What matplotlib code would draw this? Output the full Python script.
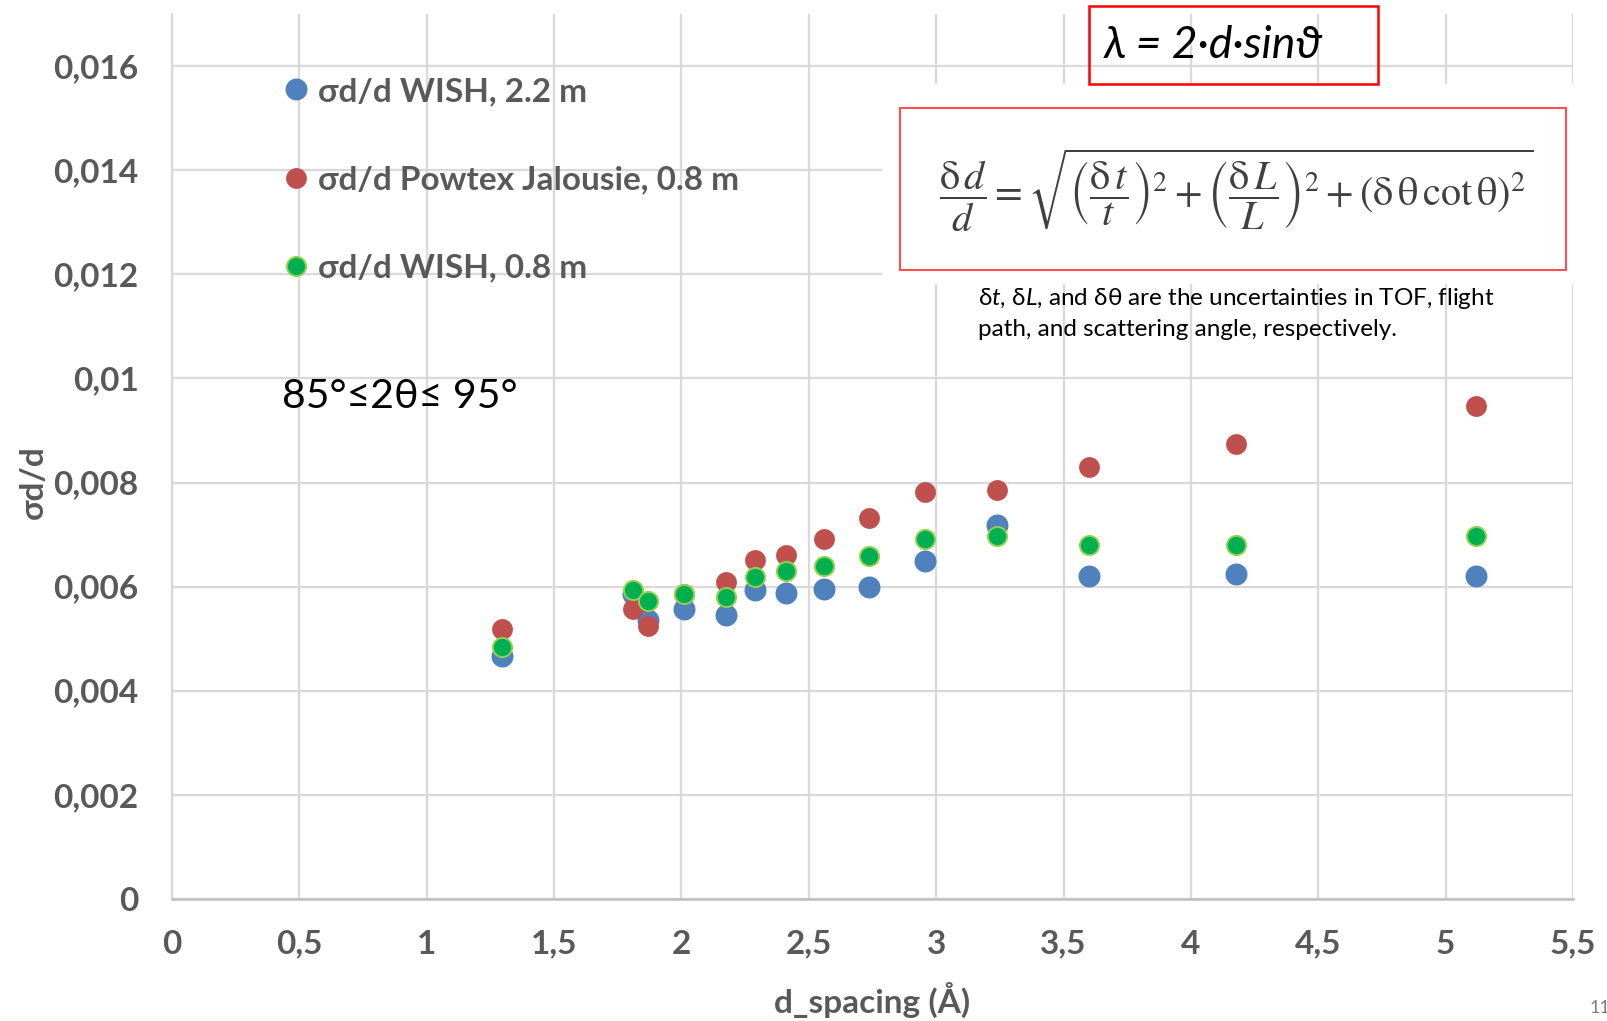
import numpy as np
import matplotlib
matplotlib.use("Agg")
import matplotlib.pyplot as plt
from matplotlib.patches import Rectangle

# data
d_spacing = [1.297, 1.809, 1.869, 2.010, 2.176, 2.288, 2.409, 2.558, 2.736, 2.957, 3.239, 3.598, 4.178, 5.121]
wish_22 = [0.00466, 0.00586, 0.00536, 0.00558, 0.00546, 0.00594, 0.00588, 0.00596, 0.00600, 0.00649, 0.00718, 0.00621, 0.00625, 0.00621]
powtex_08 = [0.00519, 0.00558, 0.00525, 0.00586, 0.00608, 0.00651, 0.00661, 0.00692, 0.00732, 0.00781, 0.00785, 0.00830, 0.00874, 0.00947]
wish_08 = [0.00485, 0.00594, 0.00572, 0.00586, 0.00580, 0.00619, 0.00631, 0.00639, 0.00659, 0.00692, 0.00698, 0.00680, 0.00680, 0.00698]

series_names = ["σd/d WISH, 2.2 m", "σd/d Powtex Jalousie, 0.8 m", "σd/d WISH, 0.8 m"]
x_ticks = [0, 0.5, 1, 1.5, 2, 2.5, 3, 3.5, 4, 4.5, 5, 5.5]
x_ticklabels = ["0", "0,5", "1", "1,5", "2", "2,5", "3", "3,5", "4", "4,5", "5", "5,5"]
y_ticks = [0, 0.002, 0.004, 0.006, 0.008, 0.010, 0.012, 0.014, 0.016]
y_ticklabels = ["0", "0,002", "0,004", "0,006", "0,008", "0,01", "0,012", "0,014", "0,016"]

FONTS = ["Lato", "Noto Sans", "DejaVu Sans"]
plt.rcParams["font.family"] = FONTS
plt.rcParams["mathtext.fontset"] = "custom"
plt.rcParams["mathtext.rm"] = "Lato"
plt.rcParams["mathtext.it"] = "Lato:italic"
plt.rcParams["mathtext.bf"] = "Lato:bold"

GRAY = "#595959"
W, H = 1608, 1021

def fx(px):
    return px / W

def fy(py):
    return 1 - py / H

fig = plt.figure(figsize=(16.08, 10.21), dpi=100)
ax = fig.add_axes([fx(172), fy(899), (1573 - 172) / W, (899 - 14) / H])

ax.scatter(d_spacing, wish_22, s=250, color="#4F81BD", linewidths=0, label=series_names[0], zorder=3)
ax.scatter(d_spacing, powtex_08, s=225, color="#C0504D", linewidths=0, label=series_names[1], zorder=3)
ax.scatter(d_spacing, wish_08, s=190, color="#00B050", edgecolors="#92D050", linewidths=1.4,
           label=series_names[2], zorder=3)

ax.set_xlim(0, 5.5)
ax.set_ylim(0, 0.017)
ax.set_xticks(x_ticks)
ax.set_xticklabels(x_ticklabels)
ax.set_yticks(y_ticks)
ax.set_yticklabels(y_ticklabels)
ax.tick_params(length=0, labelsize=24, labelcolor=GRAY)
ax.tick_params(axis="y", pad=24)
ax.tick_params(axis="x", pad=22)
for lab in ax.get_xticklabels() + ax.get_yticklabels():
    lab.set_fontweight("bold")

ax.grid(True, color="#D9D9D9", lw=1.6)
ax.set_axisbelow(True)
for s in ["top", "right"]:
    ax.spines[s].set_visible(False)
ax.spines["left"].set_color("#D9D9D9")
ax.spines["left"].set_linewidth(1.6)
ax.spines["bottom"].set_color("#BFBFBF")
ax.spines["bottom"].set_linewidth(1.8)

fig.text(fx(872), fy(1000), "d_spacing (Å)", ha="center", va="center", fontsize=24,
         fontweight="bold", color=GRAY)
fig.text(fx(33), fy(482), "σd/d", ha="center", va="center", rotation=90, fontsize=24,
         fontweight="bold", color=GRAY)

leg = ax.legend(loc="upper left", bbox_to_anchor=(fx(286), fy(77)), bbox_transform=fig.transFigure,
                frameon=False, fontsize=24, labelcolor=GRAY, labelspacing=1.78,
                handlelength=0.6, handletextpad=0.35, borderpad=0, borderaxespad=0,
                markerscale=1.0, scatteryoffsets=[0.5])
for t in leg.get_texts():
    t.set_fontweight("bold")

fig.text(fx(282), fy(396), "85°≤2θ≤ 95°", ha="left", va="center", fontsize=29.5, color="black")

# white area behind the formula picture
fig.patches.append(Rectangle((fx(882), fy(284)), fx(1580 - 882), (284 - 84) / H,
                             transform=fig.transFigure, facecolor="white", edgecolor="none", zorder=1))
fig.patches.append(Rectangle((fx(900), fy(270)), fx(1566 - 900), (270 - 108) / H,
                             transform=fig.transFigure, facecolor="white", edgecolor="#FF5050",
                             lw=1.5, zorder=2))
fig.patches.append(Rectangle((fx(1089), fy(84)), fx(1378 - 1089), (84 - 6) / H,
                             transform=fig.transFigure, facecolor="none", edgecolor="#FF0000",
                             lw=1.8, zorder=2))

fig.text(fx(1104), fy(46), "λ = 2·d·sinϑ", ha="left", va="center", fontsize=32, style="italic",
         color="black", zorder=3)

fig.text(fx(1236), fy(190),
         r"$\dfrac{\mathrm{\delta}\,d}{d}=\sqrt{\left(\dfrac{\mathrm{\delta}\,t}{t}\right)^2+"
         r"\left(\dfrac{\mathrm{\delta}\,L}{L}\right)^2+\left(\mathrm{\delta\,\theta}\,\mathrm{cot}\,\mathrm{\theta}\right)^2}$",
         ha="center", va="center", fontsize=29, color="#404040", math_fontfamily="stix", zorder=3)

fig.text(fx(978), fy(298), r"δ$t$, δ$L$, and δθ are the uncertainties in TOF, flight",
         ha="left", va="center", fontsize=17.5, color="black", zorder=3)
fig.text(fx(978), fy(330), "path, and scattering angle, respectively.",
         ha="left", va="center", fontsize=17.5, color="black", zorder=3)

fig.text(fx(1590), fy(1008), "11", ha="left", va="center", fontsize=13, color="#7F7F7F")

fig.savefig("out.png", dpi=100, facecolor="white")
